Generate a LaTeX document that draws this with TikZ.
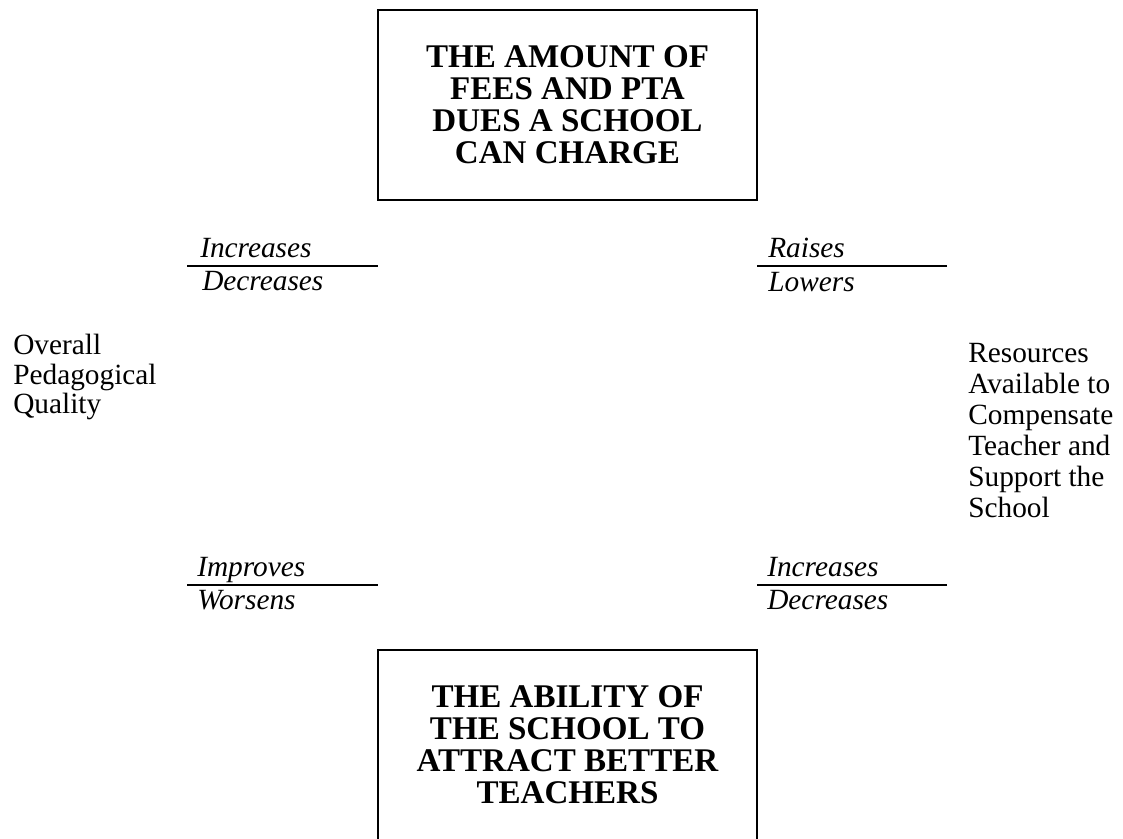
\documentclass[tikz,border=0pt]{standalone}
\usepackage{fontspec}
\setmainfont{Liberation Serif}
\begin{document}
\begin{tikzpicture}[x=0.75pt,y=-0.75pt,
  box/.style={draw, line width=2.2pt, outer sep=0pt, inner sep=0pt,
    minimum width=284.25pt, minimum height=142.5pt, align=center,
    font=\bfseries\fontsize{24.8}{24}\selectfont},
  rule/.style={line width=2.2pt},
  lbl/.style={anchor=base west, inner sep=0pt, font=\itshape\fontsize{22}{24}\selectfont},
  side/.style={anchor=north west, inner sep=0pt, align=left, font=\fontsize{22}{23.25}\selectfont}]
\clip (0,0) rectangle (1123,838);
\useasboundingbox (0,0) rectangle (1123,838);
\fill[white] (0,0) rectangle (1123,838);

% boxes
\node[box] (top) at (567.5,105) {THE AMOUNT OF\\FEES AND PTA\\DUES A SCHOOL\\CAN CHARGE};
\node[box] (bot) at (567.5,745) {THE ABILITY OF\\THE SCHOOL TO\\ATTRACT BETTER\\TEACHERS};

% rules
\coordinate (ul) at (187,266);
\coordinate (ur) at (947,266);
\coordinate (ll) at (187,585);
\coordinate (lr) at (947,585);
\draw[rule] (ul) -- (ul -| top.west);
\draw[rule] (ur) -- (ur -| top.east);
\draw[rule] (ll) -- (ll -| bot.west);
\draw[rule] (lr) -- (lr -| bot.east);

% labels
\node[lbl] (inc1) at (200,257) {Increases};
\node[lbl] (dec1) at (202,290) {Decreases};
\node[lbl] (rai) at (768,257) {Raises};
\node[lbl] (low) at (768,291) {Lowers};
\node[lbl] (imp) at (197,576) {Improves};
\node[lbl] (wor) at (197,609) {Worsens};
\node[lbl] (inc2) at (767,576) {Increases};
\node[lbl] (dec2) at (767,609) {Decreases};

% side texts
\node[side, font=\fontsize{22}{22.1}\selectfont] (ovr) at (13,334) {Overall\\Pedagogical\\Quality};
\node[side] (res) at (968,343) {Resources\\Available to\\Compensate\\Teacher and\\Support the\\School};
\end{tikzpicture}
\end{document}
